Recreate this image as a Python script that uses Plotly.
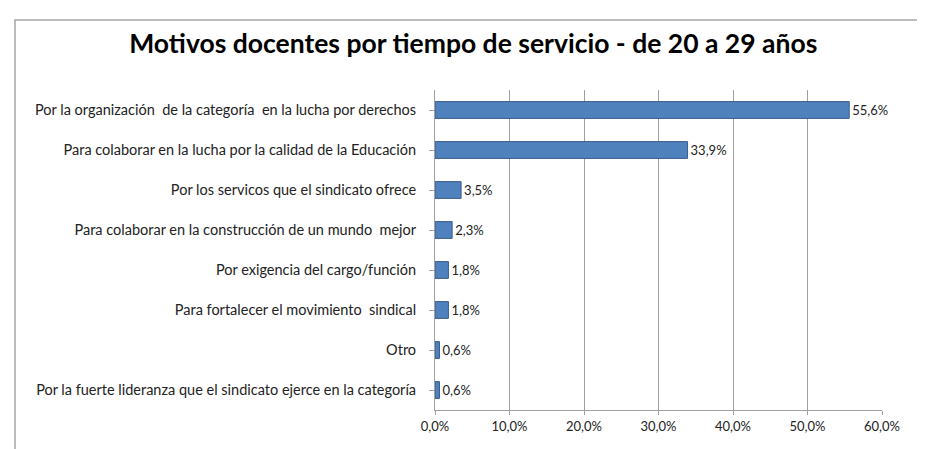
import plotly.graph_objects as go

categories = [
    "Por la organización  de la categoría  en la lucha por derechos",
    "Para colaborar en la lucha por la calidad de la Educación",
    "Por los servicos que el sindicato ofrece",
    "Para colaborar en la construcción de un mundo  mejor",
    "Por exigencia del cargo/función",
    "Para fortalecer el movimiento  sindical",
    "Otro",
    "Por la fuerte lideranza que el sindicato ejerce en la categoría",
]
values = [55.6, 33.9, 3.5, 2.3, 1.8, 1.8, 0.6, 0.6]
value_labels = ["55,6%", "33,9%", "3,5%", "2,3%", "1,8%", "1,8%", "0,6%", "0,6%"]
tick_vals = [0, 10, 20, 30, 40, 50, 60]
tick_text = ["0,0%", "10,0%", "20,0%", "30,0%", "40,0%", "50,0%", "60,0%"]
title_text = "Motivos docentes por tiempo de servicio - de 20 a 29 años"

FONT = "Lato"

fig = go.Figure(go.Bar(
    y=categories, x=values, orientation="h",
    marker=dict(color="#4F81BD", line=dict(color="#385D8A", width=1)),
    text=value_labels, textposition="outside", cliponaxis=False,
    textfont=dict(family=FONT, size=13, color="#222222"),
))

L, R, T, B = 427, 51, 82, 47
pw = 925 - L - R
ph = 449 - T - B

fig.update_layout(
    width=925, height=449,
    margin=dict(l=L, r=R, t=T, b=B),
    paper_bgcolor="white", plot_bgcolor="white",
    title=dict(text="<b>" + title_text + "</b>", x=0.503, xanchor="center", y=0.92, yanchor="middle",
               font=dict(family=FONT, size=26.5, color="black")),
    bargap=0.58,
    showlegend=False,
    shapes=[dict(type="rect", xref="paper", yref="paper",
                 x0=(7 - L) / pw, x1=1.3, y0=-0.5, y1=(449 - B - 12) / ph,
                 line=dict(color="#a6a6a6", width=1.5), fillcolor="rgba(0,0,0,0)", layer="below")],
)
fig.update_xaxes(range=[0, 60], tickvals=tick_vals, ticktext=tick_text,
                 showgrid=True, gridcolor="#a0a0a0", gridwidth=1,
                 showline=True, linecolor="#a0a0a0", ticks="outside", ticklen=4, tickcolor="#a0a0a0",
                 tickfont=dict(family=FONT, size=13, color="#222222"), zeroline=False)
fig.update_yaxes(autorange="reversed", showline=True, linecolor="#a0a0a0",
                 ticks="outside", ticklen=5, tickcolor="#a0a0a0", ticklabelstandoff=10,
                 tickfont=dict(family=FONT, size=14.5, color="#222222"))

fig.write_html("out.html")
